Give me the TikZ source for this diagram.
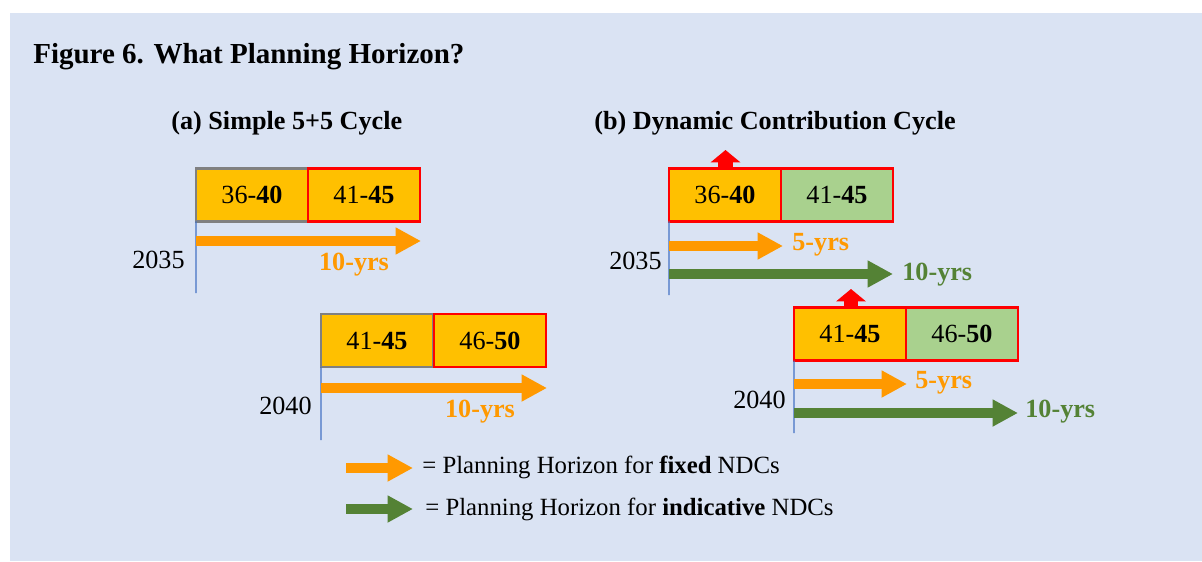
\documentclass[tikz,border=0pt]{standalone}
\usepackage{fontspec}
\setmainfont{Liberation Serif}
\usetikzlibrary{arrows.meta}
\definecolor{bgblue}{HTML}{DAE3F3}
\definecolor{gold}{HTML}{FFC000}
\definecolor{leaf}{HTML}{A9D18E}
\definecolor{horizon}{HTML}{FF9900}
\definecolor{indic}{HTML}{548235}
\definecolor{axisblue}{HTML}{4472C4}
\def\bodyfont{\fontsize{14.9}{17}\selectfont}
\def\keyfont{\fontsize{14.1}{17}\selectfont}
\tikzset{
	yearbox/.style={draw, line width=1.2pt, minimum width=2.24cm, minimum height=1.06cm, inner sep=0pt, outer sep=0pt, font=\bodyfont},
	fixedarr/.style={horizon, line width=5.2pt, -{Triangle[length=14.5pt,width=14.5pt]}},
	indicarr/.style={indic, line width=5.2pt, -{Triangle[length=14.5pt,width=14.5pt]}},
	bumparr/.style={red, line width=8.5pt, -{Triangle[length=7pt,width=16.5pt]}},
	startline/.style={axisblue, line width=0.8pt},
	yearlbl/.style={anchor=east, inner sep=0pt, font=\bodyfont},
	horlbl/.style={inner sep=0pt, font=\bodyfont\bfseries},
}

\begin{document}
\begin{tikzpicture}[x=0.02cm, y=-0.02cm]
			%%%%% START %%%%%
			\useasboundingbox (0, 0) rectangle (1202, 561);
			\fill[bgblue] (10, 13) rectangle (1202, 561);
			
			\node[anchor=west, inner sep=0pt, font=\fontsize{16.5}{19}\selectfont\bfseries] (title) at (33, 57) {Figure 6. What Planning Horizon?};
			\node[anchor=west, inner sep=0pt, font=\bodyfont\bfseries] (suba) at (171, 123) {(a) Simple 5+5 Cycle};
			\node[anchor=west, inner sep=0pt, font=\bodyfont\bfseries] (subb) at (594, 123) {(b) Dynamic Contribution Cycle};
			
			%% (a) 2035
			\node[yearbox, draw=gray, fill=gold] (a1l) at (252, 195) {36-\textbf{40}};
			\node[yearbox, draw=red, fill=gold] (a1r) at (364, 195) {41-\textbf{45}};
			\coordinate (a1foot) at (196, 293);
			\draw[startline] (a1l.south west) -- (a1foot);
			\coordinate (a1s) at (196, 241);
			\coordinate (a1e) at (421, 241);
			\draw[fixedarr] (a1s) -- (a1e);
			\node[horlbl, text=horizon] (a1lbl) at (354, 265) {10-yrs};
			\node[yearlbl] (a1yr) at (185, 260) {2035};
			
			%% (a) 2040
			\node[yearbox, draw=gray, fill=gold] (a2l) at (377, 340.5) {41-\textbf{45}};
			\node[yearbox, draw=red, fill=gold] (a2r) at (490, 340.5) {46-\textbf{50}};
			\coordinate (a2foot) at (321, 440);
			\draw[startline] (a2l.south west) -- (a2foot);
			\coordinate (a2s) at (321, 388);
			\coordinate (a2e) at (547, 388);
			\draw[fixedarr] (a2s) -- (a2e);
			\node[horlbl, text=horizon] (a2lbl) at (480, 412) {10-yrs};
			\node[yearlbl] (a2yr) at (312, 406) {2040};
			
			%% (b) 2035
			\node[yearbox, draw=red, fill=gold] (b1l) at (725, 195) {36-\textbf{40}};
			\node[yearbox, draw=red, fill=leaf] (b1r) at (837, 195) {41-\textbf{45}};
			\coordinate (b1tip) at (725.5, 150);
			\draw[bumparr] (b1l.north -| b1tip) -- (b1tip);
			\coordinate (b1foot) at (669, 295);
			\draw[startline] (b1l.south west) -- (b1foot);
			\coordinate (b1s) at (669, 246);
			\coordinate (b1e) at (783, 246);
			\draw[fixedarr] (b1s) -- (b1e);
			\node[horlbl, text=horizon, anchor=west] (b1lbl5) at (792, 245) {5-yrs};
			\coordinate (b1t) at (669, 274);
			\coordinate (b1f) at (893, 274);
			\draw[indicarr] (b1t) -- (b1f);
			\node[horlbl, text=indic, anchor=west] (b1lbl10) at (902, 275) {10-yrs};
			\node[yearlbl] (b1yr) at (662, 261) {2035};
			
			%% (b) 2040
			\node[yearbox, draw=red, fill=gold] (b2l) at (850, 334) {41-\textbf{45}};
			\node[yearbox, draw=red, fill=leaf] (b2r) at (962, 334) {46-\textbf{50}};
			\coordinate (b2tip) at (851, 289);
			\draw[bumparr] (b2l.north -| b2tip) -- (b2tip);
			\coordinate (b2foot) at (794, 433);
			\draw[startline] (b2l.south west) -- (b2foot);
			\coordinate (b2s) at (794, 384);
			\coordinate (b2e) at (907, 384);
			\draw[fixedarr] (b2s) -- (b2e);
			\node[horlbl, text=horizon, anchor=west] (b2lbl5) at (915, 383) {5-yrs};
			\coordinate (b2t) at (794, 413);
			\coordinate (b2f) at (1018, 413);
			\draw[indicarr] (b2t) -- (b2f);
			\node[horlbl, text=indic, anchor=west] (b2lbl10) at (1025, 412) {10-yrs};
			\node[yearlbl] (b2yr) at (786, 400) {2040};
			
			%% legend
			\coordinate (keyfs) at (346, 468);
			\coordinate (keyfe) at (413, 468);
			\draw[fixedarr] (keyfs) -- (keyfe);
			\node[anchor=west, inner sep=0pt, font=\keyfont] (keyf) at (422, 467) {= Planning Horizon for \textbf{fixed} NDCs};
			\coordinate (keyis) at (346, 509);
			\coordinate (keyie) at (413, 509);
			\draw[indicarr] (keyis) -- (keyie);
			\node[anchor=west, inner sep=0pt, font=\keyfont] (keyi) at (425, 509) {= Planning Horizon for \textbf{indicative} NDCs};
			%%%%% END %%%%%
		\end{tikzpicture}
\end{document}
